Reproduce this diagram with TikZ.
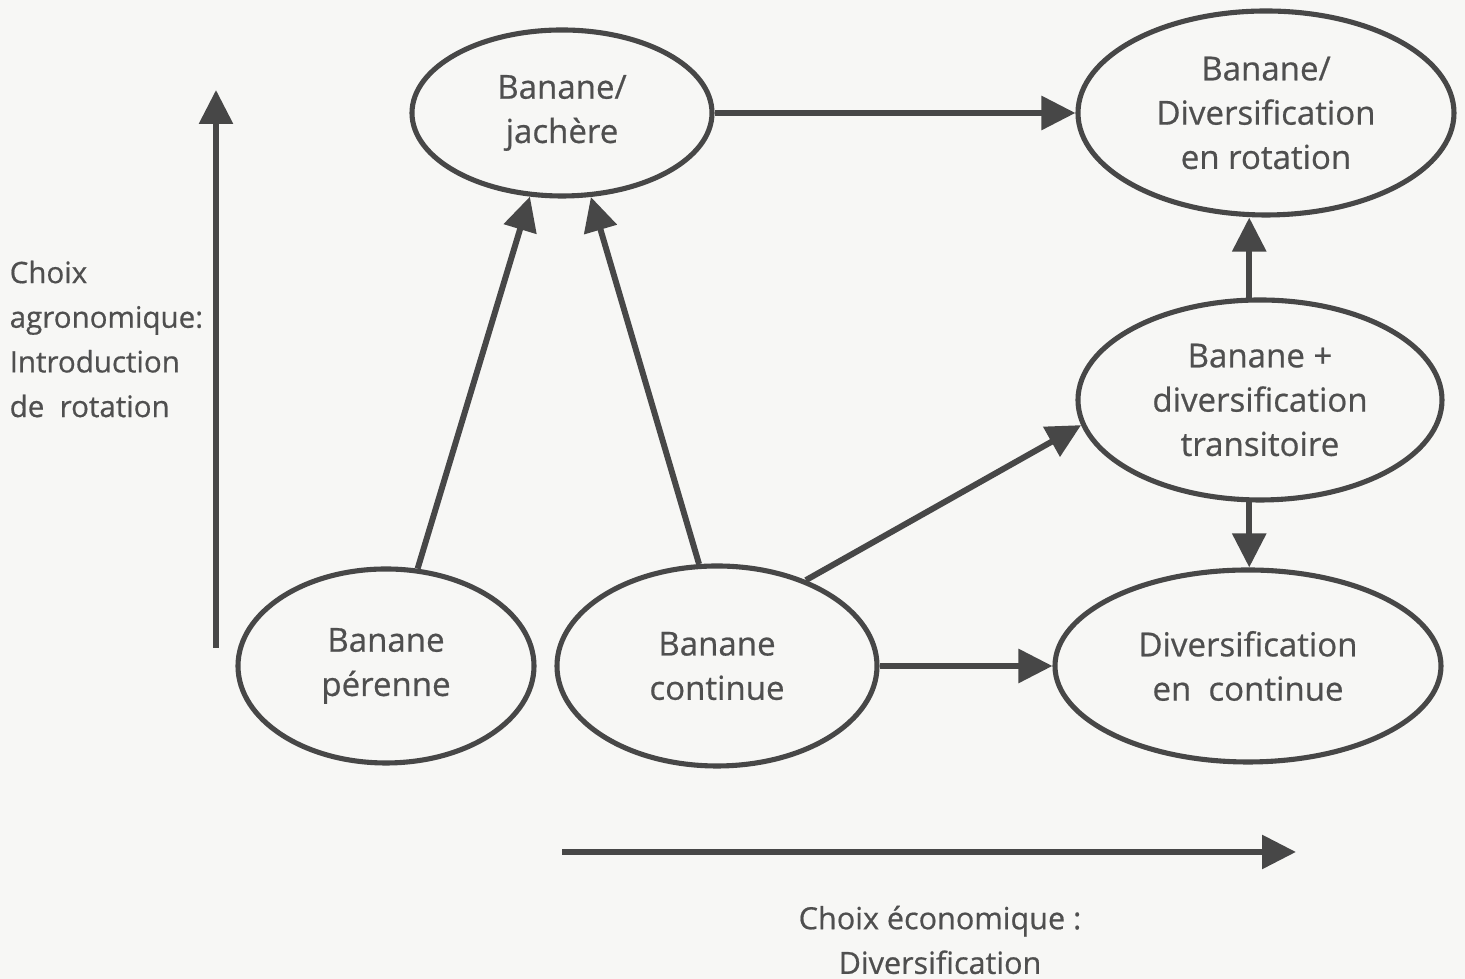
\documentclass[tikz,border=0pt]{standalone}
\usepackage{fontspec}
\setmainfont{Open Sans}[FakeBold=0.6]
\usetikzlibrary{shapes.geometric,arrows.meta}
\definecolor{trait}{HTML}{474747}
\definecolor{texte}{HTML}{4F4F4F}
\definecolor{fond}{HTML}{F7F7F5}
\begin{document}
\begin{tikzpicture}[
    etat/.style={draw=trait, ellipse, line width=1.45pt, inner sep=0pt, align=center,
        text=texte, font=\fontsize{9.4}{12.6}\selectfont},
    fleche/.style={draw=trait, line width=1.7pt, -{Triangle[length=0.34cm, width=0.33cm]}},
    legende/.style={text=texte, inner sep=0pt, font=\fontsize{8.7}{12.7}\selectfont}]
    \fill[fond] (0,0) rectangle (14.65,9.79);
    \useasboundingbox (0,0) rectangle (14.65,9.79);
    \node[etat, minimum width=3.0cm, minimum height=1.66cm] (jachere) at (5.62,8.66) {Banane/\\jachère};
    \node[etat, minimum width=3.76cm, minimum height=2.04cm] (rotation) at (12.66,8.66) {Banane/\\Diversification\\en rotation};
    \node[etat, minimum width=3.64cm, minimum height=2.0cm] (transit) at (12.60,5.79) {Banane +\\diversification\\transitoire};
    \node[etat, minimum width=3.86cm, minimum height=1.92cm] (divcont) at (12.48,3.13) {Diversification\\en\ \ continue};
    \node[etat, minimum width=2.96cm, minimum height=1.94cm] (perenne) at (3.86,3.13) {Banane\\pérenne};
    \node[etat, minimum width=3.2cm, minimum height=2.0cm] (continue) at (7.17,3.13) {Banane\\continue};
    \draw[fleche] (jachere.east) -- (rotation.west);
    \draw[fleche] (perenne.72) -- (jachere.249);
    \draw[fleche] (continue.100) -- (jachere.289);
    \draw[fleche] (continue.44) -- (transit.188);
    \draw[fleche] (continue.east) -- (divcont.west);
    \draw[fleche] (transit.96) -- (transit.96 |- rotation.south);
    \draw[fleche] (transit.264) -- (transit.264 |- divcont.north);
    \coordinate (agroA) at (2.16,3.31);
    \coordinate (agroB) at (2.16,8.89);
    \coordinate (ecoA) at (5.62,1.27);
    \coordinate (ecoB) at (12.96,1.27);
    \draw[fleche] (agroA) -- (agroB);
    \draw[fleche] (ecoA) -- (ecoB);
    \node[legende, align=left, anchor=west, font=\fontsize{8.4}{12.7}\selectfont] (agro) at (0.09,6.40) {Choix\\agronomique:\\Introduction\\de\ \ rotation};
    \node[legende, align=center] (eco) at (9.40,0.39) {Choix économique :\\Diversification};
\end{tikzpicture}
\end{document}
